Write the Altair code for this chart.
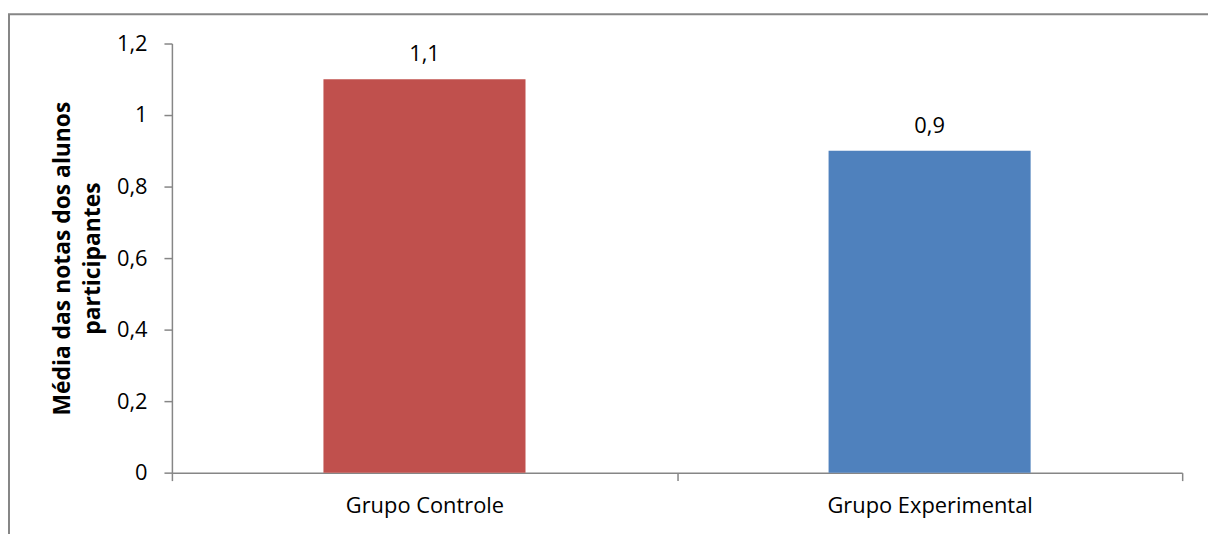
import altair as alt
import pandas as pd

categories = ["Grupo Controle", "Grupo Experimental"]
values = [1.1, 0.9]
colors = ["#C0504D", "#4F81BD"]
y_ticks = [0, 0.2, 0.4, 0.6, 0.8, 1.0, 1.2]
title_text = "Estatística Básica – Floriano – PI – 2010"
y_title = ["Média das notas dos alunos", "participantes"]

df = pd.DataFrame({"grupo": categories, "valor": values, "cor": colors})
one = pd.DataFrame({"k": [0]})

FONT = "Open Sans"
AX = "#868686"

x_enc = alt.X(
    "grupo:N",
    sort=categories,
    scale=alt.Scale(paddingInner=0, paddingOuter=0),
    axis=alt.Axis(
        title=None, labelAngle=0, tickBand="extent", tickSize=8, labelLimit=500,
        labelFont=FONT, labelFontSize=22, labelColor="#000000", labelPadding=15,
        domainColor=AX, tickColor=AX, domainWidth=1.5, tickWidth=1.5,
    ),
)
y_enc = alt.Y(
    "valor:Q",
    scale=alt.Scale(domain=[0, 1.2], nice=False, zero=True),
    axis=alt.Axis(
        values=y_ticks, title=y_title, grid=False, tickSize=8,
        labelExpr="replace(format(datum.value, '~g'), '.', ',')",
        labelFont=FONT, labelFontSize=22, labelColor="#000000", labelPadding=17,
        titleFont=FONT, titleFontSize=23, titleFontWeight="bold", titleColor="#000000",
        titleLineHeight=30, titlePadding=12,
        domainColor=AX, tickColor=AX, domainWidth=1.5, tickWidth=1.5,
    ),
)

bars = alt.Chart(df).mark_bar(width=alt.RelativeBandSize(0.4)).encode(
    x=x_enc, y=y_enc, color=alt.Color("cor:N", scale=None)
)

labels = alt.Chart(df).transform_calculate(
    rotulo="replace(format(datum.valor, '.1f'), '.', ',')"
).mark_text(font=FONT, fontSize=22, color="#000000", baseline="alphabetic", dy=-18).encode(
    x=alt.X("grupo:N", sort=categories), y="valor:Q", text="rotulo:N"
)

frame = alt.Chart(one).mark_rect(fillOpacity=0, stroke=AX, strokeWidth=2).encode(
    x=alt.value(-164), x2=alt.value(2500), y=alt.value(-29.5), y2=alt.value(900)
)

title = alt.Chart(one).transform_calculate(t=f"'{title_text}'").mark_text(
    font="Liberation Sans", fontSize=27, fontWeight="bold", color="#000000",
    baseline="alphabetic", align="center"
).encode(x=alt.value(443), y=alt.value(-37), text="t:N")

chart = alt.layer(frame, title, bars, labels).properties(
    width=1017, height=432,
    autosize=alt.AutoSizeParams(type="none"),
    padding={"left": 165, "top": 34, "right": 26, "bottom": 60},
).configure_view(stroke=None)

chart.save("out.html", embed_options={"renderer": "svg", "actions": False})
